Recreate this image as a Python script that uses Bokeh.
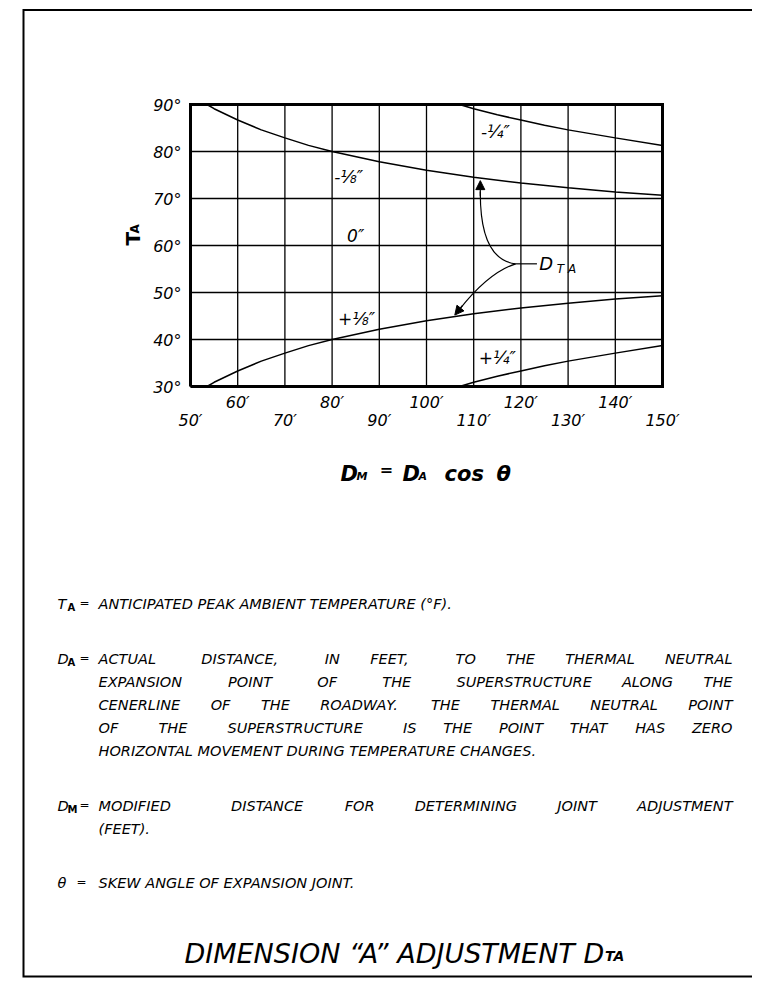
import math
from bokeh.plotting import figure
from bokeh.models import Range1d, Label, Arrow, NormalHead
from bokeh.core.properties import value
from bokeh.embed import file_html
from bokeh.resources import INLINE

# ---------------- data ----------------
x_ticks_upper = [60, 80, 100, 120, 140]
x_ticks_lower = [50, 70, 90, 110, 130, 150]
x_grid = [50, 60, 70, 80, 90, 100, 110, 120, 130, 140, 150]
y_ticks = [30, 40, 50, 60, 70, 80, 90]

minus_quarter_dm = [107, 110, 115, 120, 125, 130, 140, 150]
minus_quarter_ta = [90, 89.1, 87.8, 86.7, 85.6, 84.6, 82.9, 81.3]
minus_eighth_dm = [53.5, 55, 60, 65, 70, 75, 80, 90, 100, 110, 120, 130, 140, 150]
minus_eighth_ta = [90, 89.1, 86.7, 84.6, 82.9, 81.3, 80, 77.8, 76, 74.5, 73.3, 72.3, 71.4, 70.7]
plus_eighth_dm = [53.5, 55, 60, 65, 70, 75, 80, 90, 100, 110, 120, 130, 140, 150]
plus_eighth_ta = [30, 30.9, 33.3, 35.4, 37.1, 38.7, 40, 42.2, 44, 45.5, 46.7, 47.7, 48.6, 49.3]
plus_quarter_dm = [107, 110, 115, 120, 125, 130, 140, 150]
plus_quarter_ta = [30, 30.9, 32.2, 33.3, 34.4, 35.4, 37.1, 38.7]

curve_labels = ["-\u00bc\u2033", "-\u215b\u2033", "0\u2033", "+\u215b\u2033", "+\u00bc\u2033"]

body_lines = [
    ("T", "A", "ANTICIPATED PEAK AMBIENT TEMPERATURE (\u00b0F).", False),
    ("D", "A", "ACTUAL  DISTANCE,  IN FEET,  TO THE THERMAL NEUTRAL", True),
    (None, None, "EXPANSION  POINT  OF  THE  SUPERSTRUCTURE ALONG THE", True),
    (None, None, "CENERLINE OF THE ROADWAY. THE THERMAL NEUTRAL POINT", True),
    (None, None, "OF  THE  SUPERSTRUCTURE  IS THE POINT THAT HAS ZERO", True),
    (None, None, "HORIZONTAL MOVEMENT DURING TEMPERATURE CHANGES.", False),
    ("D", "M", "MODIFIED  DISTANCE FOR DETERMINING JOINT ADJUSTMENT", True),
    (None, None, "(FEET).", False),
    ("\u03b8", None, "SKEW ANGLE OF EXPANSION JOINT.", False),
]
body_y = [603, 658, 681, 704, 727, 750, 805, 828, 882]

# ---------------- layout ----------------
W, H = 752, 978
X0, X1, Y0, Y1 = 50, 150, 30, 90
CL, CT, CR, CB = 190, 104, 662, 386   # chart box in picture pixels
KX = (CR - CL) / (X1 - X0)
KY = (CB - CT) / (Y1 - Y0)
xr = Range1d(X0 - CL / KX, X1 + (W - CR) / KX)
yr = Range1d(Y0 - (H - CB) / KY, Y1 + CT / KY)

p = figure(width=W, height=H, x_range=xr, y_range=yr,
           x_axis_type=None, y_axis_type=None,
           output_backend="svg", toolbar_location=None,
           min_border=0, min_border_left=0, min_border_right=0,
           min_border_top=0, min_border_bottom=0)
p.background_fill_color = "white"
p.border_fill_color = "white"
p.outline_line_color = None

FONT = "DejaVu Sans"

def dx(px):
    return X0 + (px - CL) / KX

def dy(py):
    return Y1 - (py - CT) / KY

def lab(px, py, text, size, style="italic", align="left", baseline="middle", angle=0):
    p.add_layout(Label(x=dx(px), y=dy(py), text=text, text_font=FONT,
                       text_font_size=f"{size}px", text_font_style=style,
                       text_align=align, text_baseline=baseline, angle=angle,
                       text_color="black"))

# grid
p.segment(x0=x_grid, y0=[Y0] * len(x_grid), x1=x_grid, y1=[Y1] * len(x_grid),
          line_color="black", line_width=1.3)
p.segment(x0=[X0] * len(y_ticks), y0=y_ticks, x1=[X1] * len(y_ticks), y1=y_ticks,
          line_color="black", line_width=1.3)
# chart box
p.line([X0, X1, X1, X0, X0], [Y0, Y0, Y1, Y1, Y0], line_color="black",
       line_width=3, line_join="miter")

# tick labels
p.text(x=x_ticks_upper, y=[Y0] * len(x_ticks_upper),
       text=[f"{t}\u2032" for t in x_ticks_upper], y_offset=16,
       text_font=value(FONT), text_font_style="italic", text_font_size="16px",
       text_align="center", text_baseline="middle", text_color="black")
p.text(x=x_ticks_lower, y=[Y0] * len(x_ticks_lower),
       text=[f"{t}\u2032" for t in x_ticks_lower], y_offset=34,
       text_font=value(FONT), text_font_style="italic", text_font_size="16px",
       text_align="center", text_baseline="middle", text_color="black")
p.text(x=[X0] * len(y_ticks), y=y_ticks, text=[f"{t}\u00b0" for t in y_ticks],
       x_offset=-9, y_offset=1,
       text_font=value(FONT), text_font_style="italic", text_font_size="16px",
       text_align="right", text_baseline="middle", text_color="black")

# curves
for xs, ys in [(minus_quarter_dm, minus_quarter_ta), (minus_eighth_dm, minus_eighth_ta),
               (plus_eighth_dm, plus_eighth_ta), (plus_quarter_dm, plus_quarter_ta)]:
    p.line(xs, ys, line_color="black", line_width=1.5)

# curve labels
p.text(x=[114.6, 83.5, 85.0, 85.2, 115.0], y=[84.1, 74.5, 62.1, 44.4, 36.1],
       text=curve_labels, text_font=value(FONT), text_font_style="italic",
       text_font_size="17px", text_align="center", text_baseline="middle",
       text_color="black")

# D_TA leader + arrows
p.add_layout(Label(x=123.9, y=56.2, text="D", text_font=FONT, text_font_size="18px",
                   text_font_style="italic", text_align="left", text_baseline="middle",
                   text_color="black"))
p.add_layout(Label(x=127.6, y=55.0, text="T A", text_font=FONT, text_font_size="12px",
                   text_font_style="italic", text_align="left", text_baseline="middle",
                   text_color="black"))
p.line([118.9, 123.4], [56.1, 56.1], line_color="black", line_width=1.2)
p.quadratic(x0=[118.9, 118.9], y0=[56.1, 56.1], x1=[111.4, 107.0], y1=[71.5, 46.4],
            cx=[111.3, 113.2], cy=[57.0, 54.3], line_color="black", line_width=1.2)
p.add_layout(Arrow(end=NormalHead(size=9, fill_color="black", line_color="black"),
                   x_start=111.4, y_start=70.5, x_end=111.4, y_end=73.8,
                   line_color="black", line_width=1.2))
p.add_layout(Arrow(end=NormalHead(size=9, fill_color="black", line_color="black"),
                   x_start=107.6, y_start=47.2, x_end=106.0, y_end=45.2,
                   line_color="black", line_width=1.2))

# axis titles
lab(132, 245, "T", 20, style="bold", baseline="alphabetic", angle=math.pi / 2)
lab(134, 233, "A", 12, style="bold", baseline="alphabetic", angle=math.pi / 2)

lab(340, 473, "D", 21, style="bold italic", baseline="alphabetic")
lab(356, 476, "M", 11, style="bold italic", baseline="alphabetic")
lab(386, 469, "=", 16, style="bold", align="center")
lab(402, 473, "D", 21, style="bold italic", baseline="alphabetic")
lab(418, 476, "A", 11, style="bold italic", baseline="alphabetic")
lab(444, 473, "cos", 21, style="bold italic", baseline="alphabetic")
lab(496, 473, "\u03b8", 21, style="bold italic", baseline="alphabetic")

# body text
AW = {'A': .684, 'B': .686, 'C': .698, 'D': .770, 'E': .632, 'F': .575, 'G': .775,
      'H': .752, 'I': .295, 'J': .295, 'K': .656, 'L': .557, 'M': .863, 'N': .748,
      'O': .787, 'P': .603, 'Q': .787, 'R': .695, 'S': .635, 'T': .611, 'U': .732,
      'V': .684, 'W': .989, 'X': .685, 'Y': .611, 'Z': .685, ' ': .318, ',': .318,
      '.': .318, '(': .390, ')': .390, '\u00b0': .5, '\u201c': .46, '\u201d': .46}

def tw(s, size):
    return sum(AW.get(c, .636) for c in s) * size

BS = 14.5
LEFT, INDENT, RIGHT = 57, 98, 732
for (sym, sub, text, just), py in zip(body_lines, body_y):
    if sym is not None:
        lab(LEFT, py, sym, BS)
        if sub:
            lab(LEFT + 10, py + 4, sub, 10, style="bold")
        lab(LEFT + (22 if sub else 19), py - 1, "=", 12, style="normal")
    if just:
        # words separated by a double space get a slightly wider share of the spread
        tokens = text.split(" ")
        words, weights = [], []
        pending = 0
        for tok in tokens:
            if tok == "":
                pending += 1
                continue
            if words:
                weights.append(1.0 + 0.5 * pending)
            words.append(tok)
            pending = 0
        total = sum(tw(w, BS) for w in words)
        unit = (RIGHT - INDENT - total) / sum(weights)
        xcur = INDENT
        for i, w in enumerate(words):
            lab(xcur, py, w, BS)
            if i < len(weights):
                xcur += tw(w, BS) + unit * weights[i]
    else:
        lab(INDENT, py, text, BS)

# title
TS = 27
title = "DIMENSION \u201cA\u201d ADJUSTMENT D"
tx = 184
lab(tx, 953, title, TS, baseline="alphabetic")
lab(tx + tw(title, TS) - 3, 955, "TA", 14, style="bold italic", baseline="alphabetic")

# outer frame (left, top, bottom edges; right edge lies beyond the page)
p.line([dx(900), dx(23), dx(23), dx(900)], [dy(9.5), dy(9.5), dy(976), dy(976)],
       line_color="black", line_width=2, line_join="miter")

open("out.html", "w").write(file_html(p, INLINE))
